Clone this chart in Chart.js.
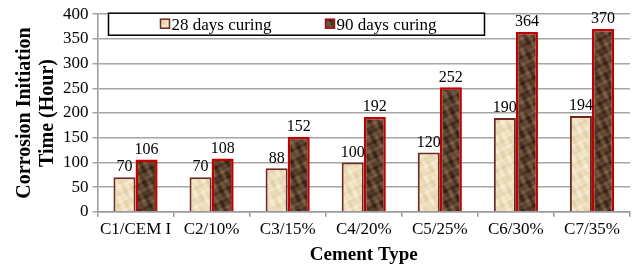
<!DOCTYPE html>
<html>
<head>
<meta charset="utf-8">
<script src="https://cdn.jsdelivr.net/npm/chart.js@4.4.0/dist/chart.umd.min.js"></script>
<style>
  html, body { margin: 0; padding: 0; background: #fff; }
  #wrap { width: 638px; height: 267px; position: relative; }
</style>
</head>
<body>
<div id="wrap"><canvas id="chart" width="638" height="267"></canvas></div>
<script>
const categories = ['C1/CEM I', 'C2/10%', 'C3/15%', 'C4/20%', 'C5/25%', 'C6/30%', 'C7/35%'];
const curing28 = [70, 70, 88, 100, 120, 190, 194];
const curing90 = [106, 108, 152, 192, 252, 364, 370];
const seriesNames = ['28 days curing', '90 days curing'];

const FONT = '"Liberation Serif", "Times New Roman", serif';

// textured fills, smooth deterministic mottling between two colours
function makePattern(dark, light) {
    const c = document.createElement('canvas');
    c.width = 32; c.height = 64;
    const g = c.getContext('2d');
    const img = g.createImageData(c.width, c.height);
    for (let y = 0; y < c.height; y++) {
        for (let x = 0; x < c.width; x++) {
            const v = Math.sin(x * 0.39 + y * 0.2) * Math.cos(y * 0.29 - x * 0.2)
                + 0.5 * Math.sin(x * 0.78 - y * 0.49) + 0.3 * Math.cos((x + y * 2) * 0.59);
            const t = Math.min(1, Math.max(0, (v + 1.4) / 2.8));
            const k = (y * c.width + x) * 4;
            for (let ch = 0; ch < 3; ch++) img.data[k + ch] = dark[ch] + (light[ch] - dark[ch]) * t;
            img.data[k + 3] = 255;
        }
    }
    g.putImageData(img, 0, 0);
    const ctx = document.getElementById('chart').getContext('2d');
    return ctx.createPattern(c, 'repeat');
}

const fill28 = makePattern([226, 206, 164], [248, 238, 214]);
const fill90 = makePattern([52, 30, 18], [128, 100, 74]);

// value labels above bars
const valueLabels = {
    id: 'valueLabels',
    afterDatasetsDraw(chart) {
        const ctx = chart.ctx;
        ctx.save();
        ctx.font = '16px ' + FONT;
        ctx.fillStyle = '#000';
        ctx.textAlign = 'center';
        ctx.textBaseline = 'bottom';
        chart.data.datasets.forEach((ds, i) => {
            const meta = chart.getDatasetMeta(i);
            meta.data.forEach((bar, j) => {
                ctx.fillText(String(ds.data[j]), bar.x, bar.y - 2);
            });
        });
        ctx.restore();
    }
};

// boxed legend inside the plot
const boxLegend = {
    id: 'boxLegend',
    afterDraw(chart) {
        const ctx = chart.ctx;
        const a = chart.chartArea;
        const x0 = a.left + 11, y0 = a.top - 1, w = 376, h = 22;
        ctx.save();
        ctx.fillStyle = '#fff';
        ctx.fillRect(x0, y0, w, h);
        ctx.strokeStyle = '#000';
        ctx.lineWidth = 1.5;
        ctx.strokeRect(x0, y0, w, h);
        ctx.font = '17px ' + FONT;
        ctx.textBaseline = 'middle';
        ctx.textAlign = 'left';
        const items = [
            { x: x0 + 52, fill: fill28, border: '#6E2A20' },
            { x: x0 + 217, fill: fill90, border: '#A01010' }
        ];
        items.forEach((it, i) => {
            ctx.fillStyle = it.fill;
            ctx.fillRect(it.x, y0 + 6, 9, 9);
            ctx.strokeStyle = it.border;
            ctx.lineWidth = 1.5;
            ctx.strokeRect(it.x, y0 + 6, 9, 9);
            ctx.fillStyle = '#000';
            ctx.fillText(seriesNames[i], it.x + 11, y0 + h / 2 + 1);
        });
        ctx.restore();
    }
};

new Chart(document.getElementById('chart'), {
    type: 'bar',
    data: {
        labels: categories,
        datasets: [
            {
                label: seriesNames[0],
                data: curing28,
                backgroundColor: fill28,
                borderColor: '#6E2A20',
                borderWidth: 2,
                borderSkipped: 'bottom'
            },
            {
                label: seriesNames[1],
                data: curing90,
                backgroundColor: fill90,
                borderColor: '#C00000',
                borderWidth: 2.5,
                borderSkipped: 'bottom'
            }
        ]
    },
    options: {
        responsive: false,
        animation: false,
        layout: { padding: { top: 8, right: 8, left: 13, bottom: 1 } },
        datasets: {
            bar: { barPercentage: 1.0, categoryPercentage: 0.58 }
        },
        plugins: {
            legend: { display: false },
            tooltip: { enabled: false }
        },
        scales: {
            x: {
                grid: {
                    display: true,
                    drawOnChartArea: false,
                    color: '#9A9A9A',
                    lineWidth: 1.5,
                    tickLength: 5,
                    offset: true
                },
                border: { color: '#9A9A9A', width: 1.5 },
                ticks: {
                    color: '#000',
                    font: { family: FONT, size: 17 },
                    padding: 3,
                    maxRotation: 0
                },
                title: {
                    display: true,
                    text: 'Cement Type',
                    color: '#000',
                    font: { family: FONT, size: 19, weight: 'bold' },
                    padding: { top: 0, bottom: 0 }
                }
            },
            y: {
                min: 0,
                max: 400,
                ticks: {
                    stepSize: 50,
                    color: '#000',
                    font: { family: FONT, size: 17 },
                    padding: 4
                },
                grid: {
                    color: '#A6A6A6',
                    lineWidth: 1.5,
                    tickLength: 5
                },
                border: { color: '#9A9A9A', width: 1.5 },
                title: {
                    display: true,
                    text: ['Corrosion Initiation', 'Time (Hour)'],
                    color: '#000',
                    font: { family: FONT, size: 20, weight: 'bold', lineHeight: 1.15 },
                    padding: { top: 0, bottom: 0 }
                }
            }
        }
    },
    plugins: [valueLabels, boxLegend]
});
</script>
</body>
</html>
